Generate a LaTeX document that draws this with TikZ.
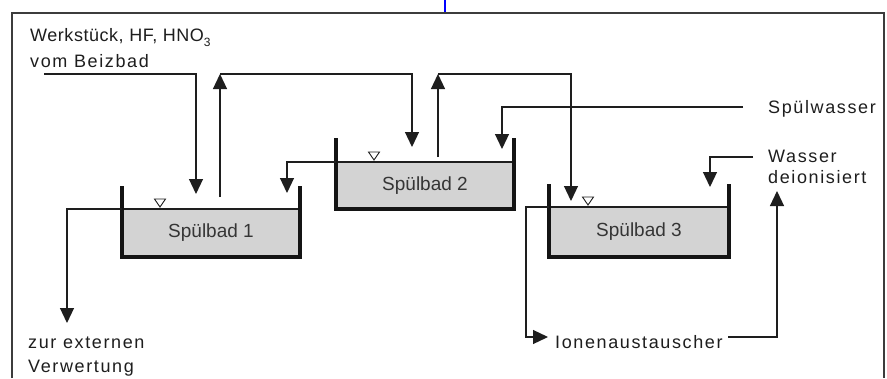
\documentclass[tikz,border=0pt]{standalone}
\usepackage{fontspec}
\setmainfont{Liberation Sans}
\newfontfamily\lblfont[LetterSpace=9]{Liberation Sans}
\newfontfamily\lblfontnarrow[LetterSpace=3]{Liberation Sans}
\usetikzlibrary{arrows.meta}
\definecolor{ink}{RGB}{30,30,30}
\definecolor{bathfill}{RGB}{211,211,211}
\definecolor{framecol}{RGB}{60,60,60}
\begin{document}
\begin{tikzpicture}[x=1pt,y=-1pt,
  flow/.style={draw=ink, line width=1.2pt},
  arr/.style={flow, -{Triangle[length=15pt,width=14pt]}},
  bath/.style={draw=ink, line width=1.2pt, fill=bathfill, inner sep=0pt, outer sep=0pt,
    font=\fontsize{19}{20}\selectfont, text=ink!90},
  wall/.style={draw=black!92, line width=4pt, line join=miter},
  lbl/.style={inner sep=0pt, anchor=base west, align=left, text=ink},
  level/.style={draw=ink, line width=0.9pt, fill=white}
]
\useasboundingbox (0,0) rectangle (887,378);
\fill[white] (0,0) rectangle (887,378);

% frame and blue mark
\draw[blue, line width=2.5pt] (445,0) -- (445,13);
\draw[framecol, line width=1.5pt] (12,378) -- (12,13) -- (884,13) -- (884,378);

% baths
\node[bath, minimum width=178pt, minimum height=48pt] (b1) at (211,233) {Spülbad 1};
\node[bath, minimum width=178pt, minimum height=47pt] (b2) at (425,185.5) {Spülbad 2};
\node[bath, minimum width=180pt, minimum height=50pt] (b3) at (639,232) {Spülbad 3};

\draw[wall] ([yshift=23pt]b1.north west) -- (b1.south west) -- (b1.south east) -- ([yshift=23pt]b1.north east);
\draw[wall] ([yshift=24pt]b2.north west) -- (b2.south west) -- (b2.south east) -- ([yshift=24pt]b2.north east);
\draw[wall] ([yshift=23pt]b3.north west) -- (b3.south west) -- (b3.south east) -- ([yshift=23pt]b3.north east);

% level markers
\draw[level] (154.5,199) -- (165.5,199) -- (160,207) -- cycle;
\draw[level] (368.5,152) -- (379.5,152) -- (374,160) -- cycle;
\draw[level] (582.5,197) -- (593.5,197) -- (588,205) -- cycle;

% labels (base anchor = baseline of last line)
\node[lbl, font=\lblfontnarrow\fontsize{18}{26}\selectfont] (feedlbl) at (30,67)
  {Werkstück, HF, HNO\raisebox{-5pt}{\fontsize{12}{12}\selectfont 3}\\{\lblfont vom Beizbad}};
\node[lbl, font=\lblfont\fontsize{18}{24}\selectfont] (rinselbl) at (768,113) {Spülwasser};
\node[lbl, font=\lblfont\fontsize{18}{21}\selectfont] (diwlbl) at (768,183) {Wasser\\deionisiert};
\node[lbl, font=\lblfont\fontsize{18}{24}\selectfont] (extlbl) at (28,372) {zur externen\\Verwertung};
\node[lbl, font=\lblfont\fontsize{18}{24}\selectfont] (ionlbl) at (555,348) {Ionenaustauscher};

% connector end points
\coordinate (feed) at (44,74);
\coordinate (in1) at (196,194);
\coordinate (out1) at (220,197);
\coordinate (top1) at (220,74);
\coordinate (in2) at (412,147);
\coordinate (out2) at (438,157);
\coordinate (top2) at (438,74);
\coordinate (in3) at (571,201);
\coordinate (rinse) at (743,107);
\coordinate (rinsein) at (502,149);
\coordinate (ov2) at (287,193);
\coordinate (ext) at (67,323);
\coordinate (diw) at (753,157);
\coordinate (diwin) at (710,187);
\coordinate (ionin) at (548,337);
\coordinate (ionout) at (728,337);
\coordinate (diwret) at (777,191);

% connectors
\draw[arr] (feed) -| (in1);
\draw[arr] (out1) -- (top1);
\draw[arr] (top1) -| (in2);
\draw[arr] (out2) -- (top2);
\draw[arr] (top2) -| (in3);
\draw[arr] (rinse) -| (rinsein);
\draw[arr] (b2.north west) -| (ov2);
\draw[arr] (b1.north west) -| (ext);
\draw[arr] (diw) -| (diwin);
\draw[arr] (b3.north west) -- ++(-23,0) |- (ionin);
\draw[arr] (ionout) -| (diwret);
\end{tikzpicture}
\end{document}
